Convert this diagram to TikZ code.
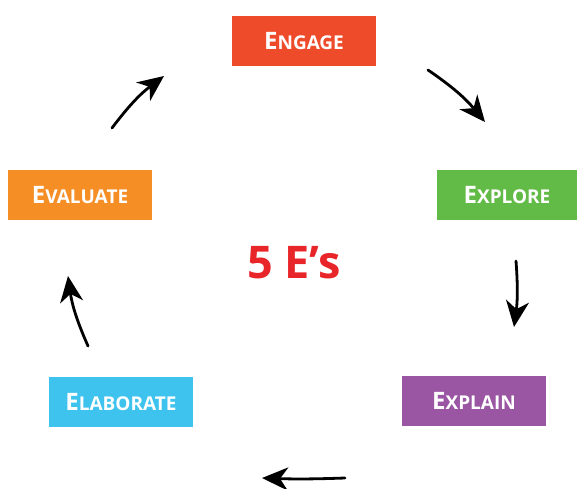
\documentclass[tikz,border=0pt]{standalone}
\usepackage{fontspec}
\setmainfont{Open Sans}
\usetikzlibrary{arrows.meta}
\definecolor{cEngage}{HTML}{EE4B2B}
\definecolor{cExplore}{HTML}{62BB46}
\definecolor{cExplain}{HTML}{9A56A3}
\definecolor{cElaborate}{HTML}{3EC3EF}
\definecolor{cEvaluate}{HTML}{F68E26}
\definecolor{cTitle}{HTML}{E8262A}
\newcommand{\ecap}[2]{{\fontsize{24}{24}\selectfont #1}{\fontsize{19}{19}\selectfont #2}}
\begin{document}
\begin{tikzpicture}[x=1pt, y=-1pt, line join=round, line cap=round, >={Stealth[length=26pt,width=23pt,inset=8pt]},
	phase/.style={minimum width=144pt, minimum height=50pt, inner sep=0pt, text=white, font=\bfseries},
	turn/.style={->, line width=2.8pt}]
	\useasboundingbox (0,0) rectangle (577,488);
	\node[phase, fill=cEngage] (engage) at (304,41) {\ecap{E}{NGAGE}};
	\node[phase, fill=cExplore, minimum width=140pt] (explore) at (507,195) {\ecap{E}{XPLORE}};
	\node[phase, fill=cExplain] (explain) at (474,401) {\ecap{E}{XPLAIN}};
	\node[phase, fill=cElaborate] (elaborate) at (121,402) {\ecap{E}{LABORATE}};
	\node[phase, fill=cEvaluate] (evaluate) at (80,195) {\ecap{E}{VALUATE}};
	\node[text=cTitle, font=\fontsize{45}{45}\selectfont\bfseries] (title) at (294,263) {5 E’s};
	% arrows round the cycle
	\coordinate (a1) at (428,70); \coordinate (b1) at (485,122);
	\coordinate (a2) at (516,261); \coordinate (b2) at (514,327);
	\coordinate (a3) at (345,478); \coordinate (b3) at (262,478);
	\coordinate (a4) at (88,346); \coordinate (b4) at (68,276);
	\coordinate (a5) at (112,128); \coordinate (b5) at (164,76);
	\draw[turn] (a1) to[bend left=8] (b1);
	\draw[turn] (a2) to[bend left=6] (b2);
	\draw[turn] (a3) to[bend left=2] (b3);
	\draw[turn] (a4) to[bend left=8] (b4);
	\draw[turn] (a5) to[bend left=8] (b5);
\end{tikzpicture}
\end{document}
